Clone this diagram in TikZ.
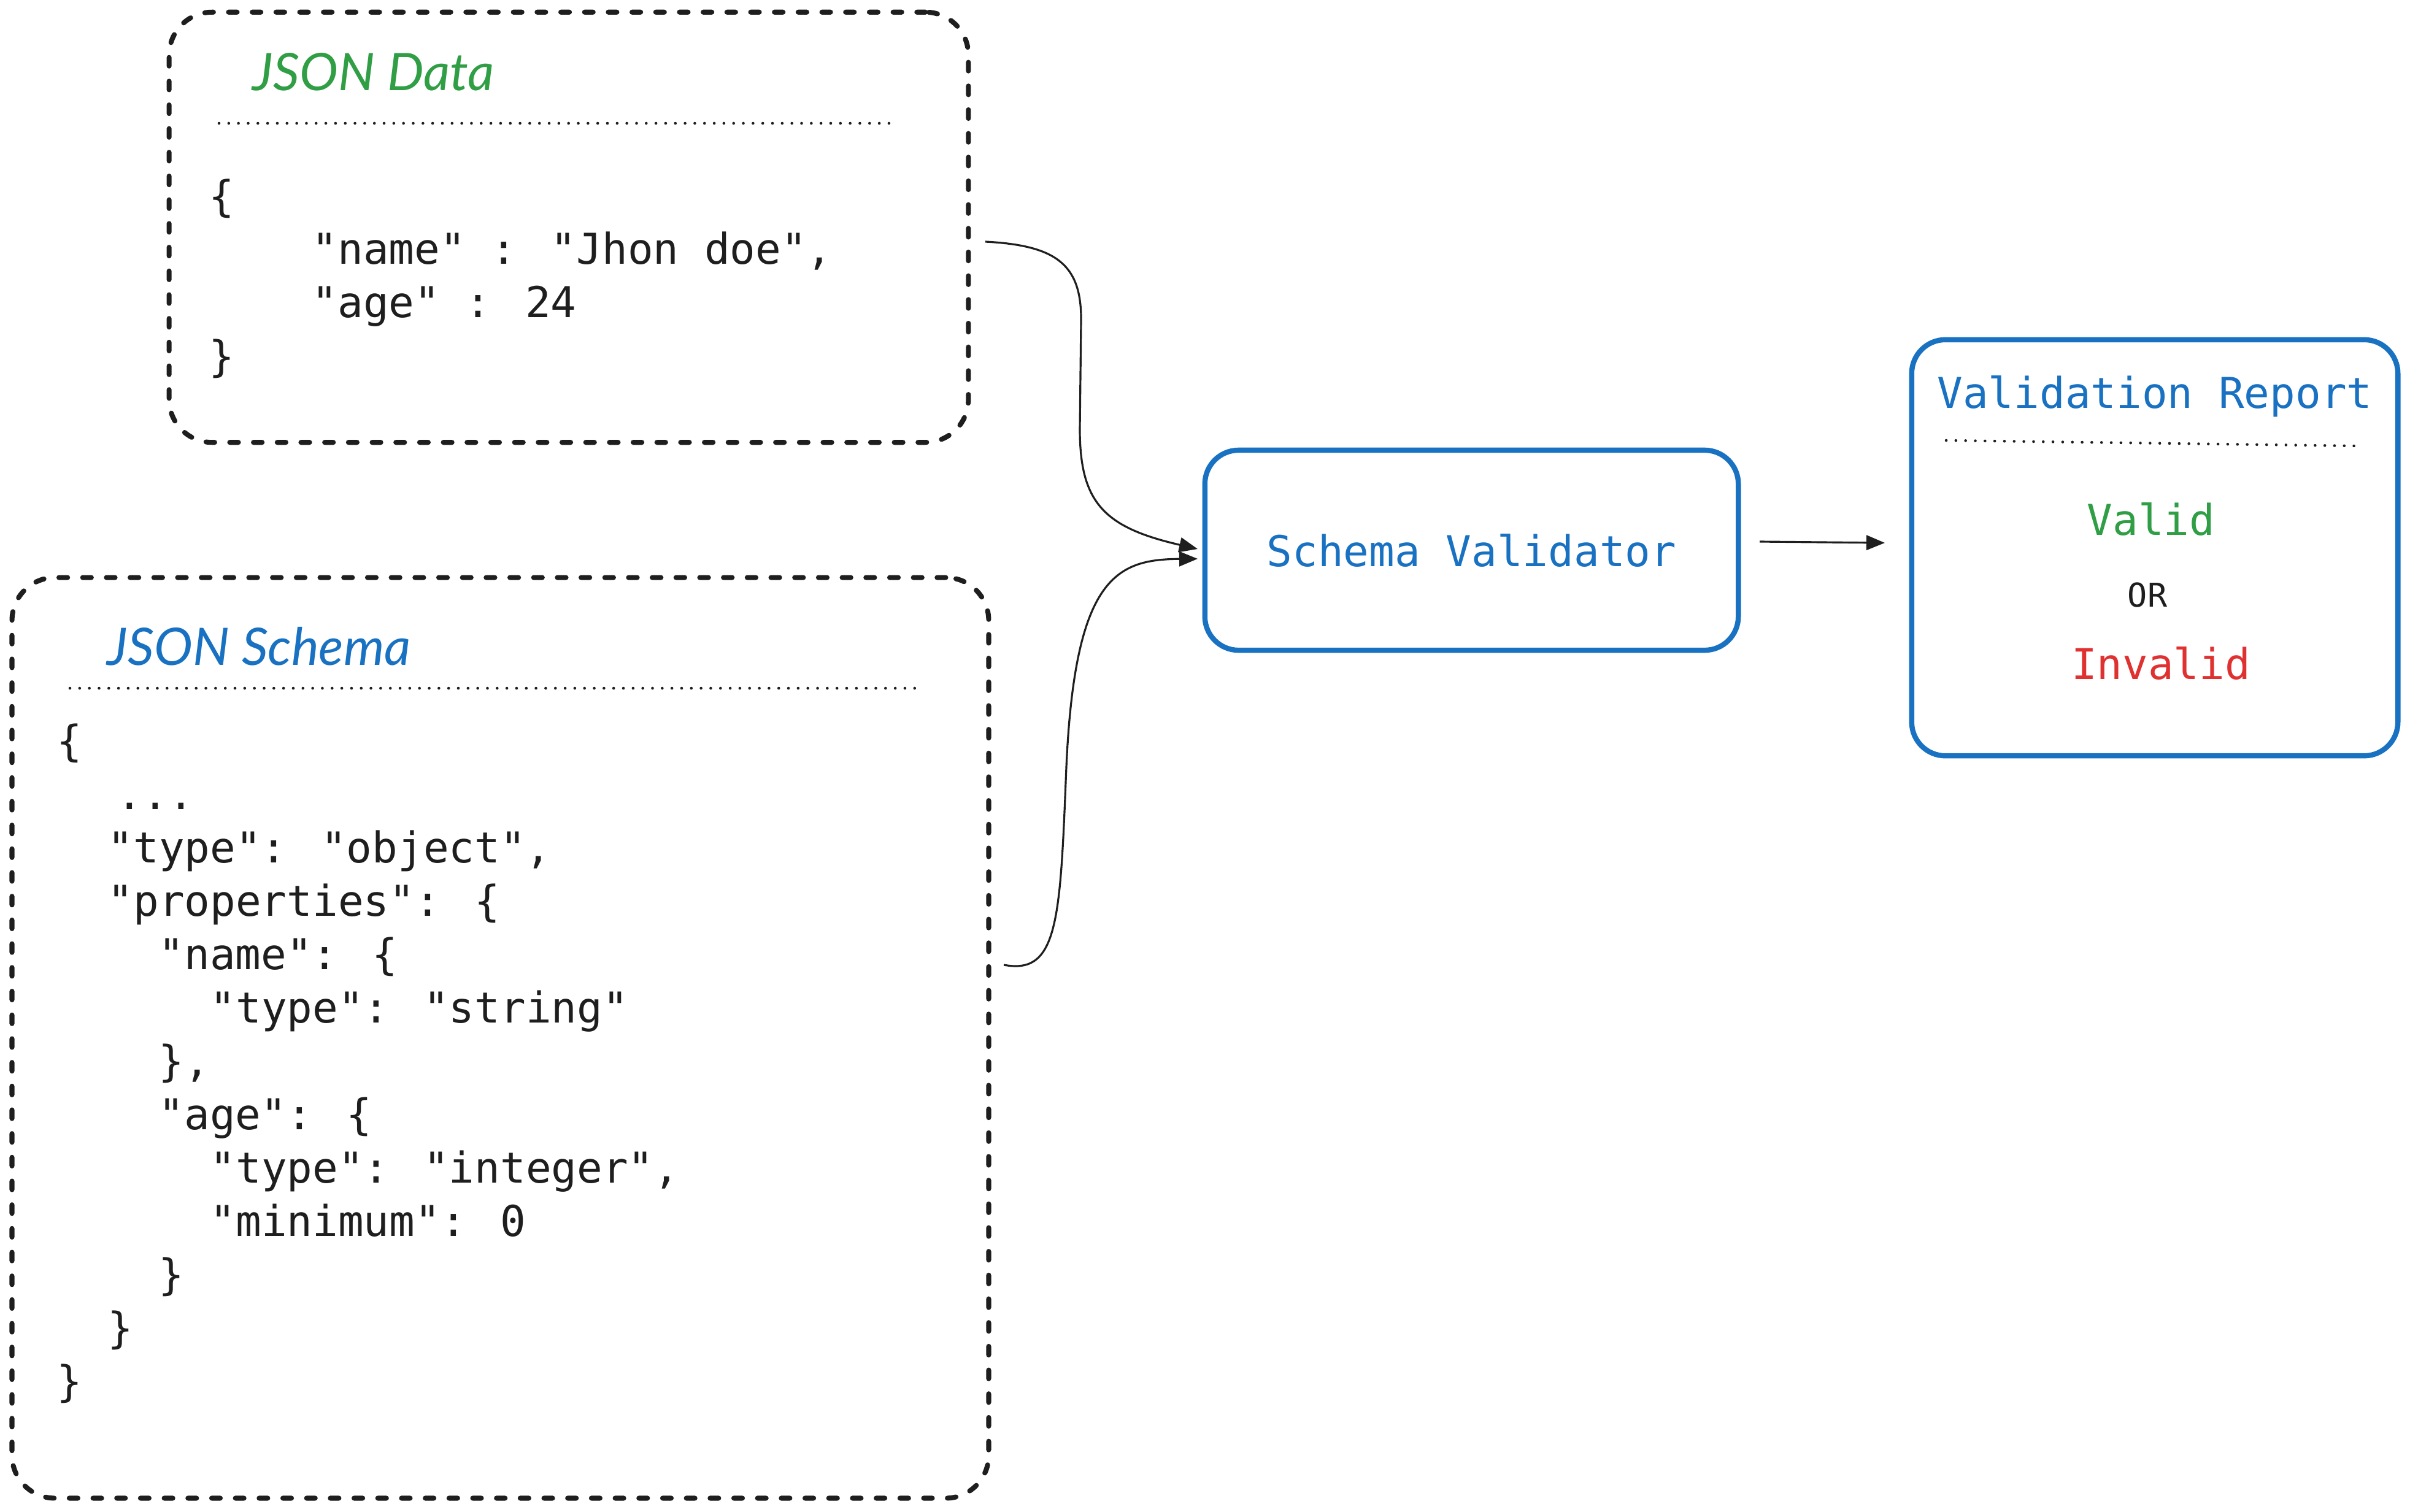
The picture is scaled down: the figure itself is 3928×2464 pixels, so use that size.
\documentclass[tikz,border=0pt]{standalone}
\usepackage{fontspec}
\setmainfont{DejaVu Sans}
\newfontfamily\codefont{DejaVu Sans Mono}
\newfontfamily\handfont{Lato}
\usetikzlibrary{arrows.meta}
\definecolor{exblue}{HTML}{1971C2}
\definecolor{exgreen}{HTML}{2F9E44}
\definecolor{exred}{HTML}{E03131}
\definecolor{exblack}{HTML}{1E1E1E}
\tikzset{
  dashbox/.style={draw=exblack, line width=2.3pt, dash pattern=on 4pt off 7pt, line cap=round, rounded corners=0.7cm, inner sep=0pt},
  bluebox/.style={draw=exblue, line width=2.4pt, rounded corners=0.55cm, inner sep=0pt},
  code/.style={font=\codefont\fontsize{19.7pt}{24pt}\selectfont, text=exblack, anchor=base west, inner sep=0pt},
  bluecode/.style={font=\codefont\fontsize{19.7pt}{24pt}\selectfont, text=exblue, inner sep=0pt},
  reporttext/.style={font=\codefont\fontsize{19.7pt}{24pt}\selectfont, anchor=base, inner sep=0pt},
  handtitle/.style={font=\handfont\itshape\fontsize{24pt}{28pt}\selectfont, anchor=west, inner sep=0pt},
  sepline/.style={draw=exblack, line width=1.3pt, dash pattern=on 0pt off 4.5pt, line cap=round},
  conn/.style={draw=exblack, line width=0.9pt, -{Triangle[length=0.3cm,width=0.24cm]}}
}
\begin{document}
\begin{tikzpicture}[x=0.01cm, y=-0.01cm]
\useasboundingbox (0,0) rectangle (3928,2464);

% ---------- JSON Data box ----------
\node[dashbox, minimum width=13.02cm, minimum height=7.01cm] (data) at (927,370.5) {};
\node[handtitle, text=exgreen] (datatitle) at (411,117) {JSON Data};
\coordinate (dsepL) at (357,201);
\coordinate (dsepR) at (1450,201);
\draw[sepline] (dsepL) -- (dsepR);
\node[code] (d1) at (340,344) {\{};
\node[code] (d2) at (508,431) {"name" : "Jhon doe",};
\node[code] (d3) at (508,518) {"age" : 24};
\node[code] (d4) at (340,605) {\}};

% ---------- JSON Schema box ----------
\node[dashbox, minimum width=15.91cm, minimum height=15.0cm] (schema) at (815.5,1692) {};
\node[handtitle, text=exblue] (schematitle) at (174,1054) {JSON Schema};
\coordinate (ssepL) at (114,1122);
\coordinate (ssepR) at (1495,1122);
\draw[sepline] (ssepL) -- (ssepR);
\node[code] (s1) at (92,1232) {\{};
\node[code] (s2) at (190,1319) {...};
\node[code] (s3) at (175,1406) {"type": "object",};
\node[code] (s4) at (175,1493) {"properties": \{};
\node[code] (s5) at (258,1580) {"name": \{};
\node[code] (s6) at (342,1667) {"type": "string"};
\node[code] (s7) at (258,1754) {\},};
\node[code] (s8) at (258,1841) {"age": \{};
\node[code] (s9) at (342,1928) {"type": "integer",};
\node[code] (s10) at (342,2015) {"minimum": 0};
\node[code] (s11) at (258,2102) {\}};
\node[code] (s12) at (175,2189) {\}};
\node[code] (s13) at (92,2276) {\}};

% ---------- Schema Validator ----------
\node[bluebox, bluecode, minimum width=8.69cm, minimum height=3.26cm] (validator) at (2398.5,897) {Schema Validator};

% ---------- Validation Report ----------
\node[bluebox, minimum width=7.92cm, minimum height=6.78cm] (report) at (3512,893) {};
\node[reporttext, text=exblue] (rtitle) at (3512,665) {Validation Report};
\coordinate (rsepL) at (3172,718);
\coordinate (rsepR) at (3841,727);
\draw[sepline] (rsepL) -- (rsepR);
\node[reporttext, text=exgreen] (valid) at (3506,872) {Valid};
\node[reporttext, text=exblack, font=\codefont\fontsize{15.2pt}{18pt}\selectfont] (or) at (3500,989) {OR};
\node[reporttext, text=exred] (invalid) at (3522,1107) {Invalid};

% ---------- connectors ----------
\coordinate (a1s) at (1606,394);
\coordinate (a1t) at (1952,895);
\coordinate (a2s) at (1636,1573);
\coordinate (a2t) at (1952,911);
\coordinate (a3s) at (2868,883);
\coordinate (a3t) at (3072,885);
\draw[conn] (a1s) .. controls (1720,400) and (1762,430) .. (1762,520)
  -- (1760,700) .. controls (1760,820) and (1800,860) .. (a1t);
\draw[conn] (a2s) .. controls (1725,1590) and (1728,1500) .. (1738,1250)
  .. controls (1752,940) and (1820,912) .. (a2t);
\draw[conn] (a3s) -- (a3t);
\end{tikzpicture}
\end{document}
